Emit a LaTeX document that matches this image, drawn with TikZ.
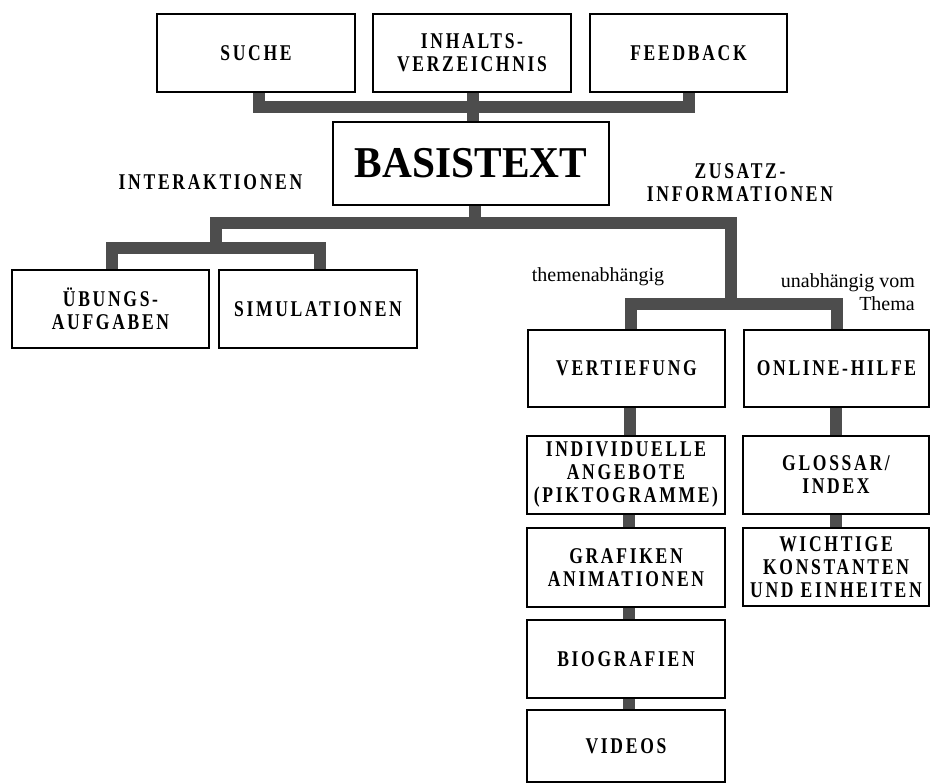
\documentclass[tikz,border=0pt]{standalone}
\usepackage{fontspec}
\setmainfont{Liberation Serif}
\newfontfamily\lblfont{Liberation Serif}[FakeStretch=0.78,LetterSpace=12]
\newfontfamily\bigfont{Liberation Serif}[FakeStretch=0.94]
\newcommand\mylbl{\lblfont\bfseries\fontsize{22.5}{23}\selectfont}
\newcommand\mybig{\bigfont\bfseries\fontsize{44}{48}\selectfont}
\definecolor{linegray}{HTML}{4D4D4D}
\pgfdeclarelayer{bg}
\pgfsetlayers{bg,main}
\begin{document}
\begin{tikzpicture}[x=1pt,y=-1pt,
  box/.style={draw=black,line width=1.5pt,fill=white,inner sep=0pt,
    minimum height=78pt,minimum width=198pt,align=center,font=\mylbl},
  conn/.style={draw=linegray,line width=12pt,line join=miter,line cap=butt},
  lbl/.style={font=\mylbl,align=center,inner sep=0pt},
  note/.style={font=\fontsize{20}{23}\selectfont,inner sep=0pt}]
\useasboundingbox (0,0) rectangle (930,784);

% boxes
\node[box] (suche) at (256,53) {SUCHE};
\node[box] (inhalt) at (472,53) {INHALTS-\\VERZEICHNIS};
\node[box,minimum width=197pt] (feed) at (688.5,53) {FEEDBACK};
\node[box,minimum width=276pt,minimum height=83pt,font=\mybig] (basis) at (471,163.5) {BASISTEXT};
\node[lbl] (inter) at (210.5,182) {INTERAKTIONEN};
\node[lbl] (zusatz) at (740,182.5) {ZUSATZ-\\INFORMATIONEN};
\node[box,minimum width=197pt] (ueb) at (110.5,309) {ÜBUNGS-\\AUFGABEN};
\node[box] (sim) at (318,309) {SIMULATIONEN};
\node[note] (them) at (598,277) {themenabhängig};
\node[note,align=right,anchor=east] (unab) at (915,292) {unabhängig vom\\Thema};
\node[box,minimum width=197pt,minimum height=77pt] (vert) at (626.5,368.5) {VERTIEFUNG};
\node[box,minimum width=185pt,minimum height=77pt] (online) at (836.5,368.5) {ONLINE-HILFE};
\node[box] (indiv) at (626,475) {INDIVIDUELLE\\ANGEBOTE\\(PIKTOGRAMME)};
\node[box,minimum height=79pt] (graf) at (626,567.5) {GRAFIKEN\\ANIMATIONEN};
\node[box] (bio) at (626,659) {BIOGRAFIEN};
\node[box,minimum height=72pt] (vid) at (626,746) {VIDEOS};
\node[box,minimum width=186pt] (gloss) at (836,475) {GLOSSAR/\\INDEX};
\node[box,minimum width=186pt] (wicht) at (836,567) {WICHTIGE\\KONSTANTEN\\UND EINHEITEN};

\coordinate (ja) at (475,223);
\coordinate (jl) at (216,248);
\coordinate (jr) at (731,304);

\begin{pgfonlayer}{bg}
\draw[conn] ([xshift=3pt]suche.south) -- ++(0,14) -| ([xshift=0.5pt]feed.south);
\draw[conn] ([xshift=0.5pt]inhalt.south) -- ([xshift=0.5pt]inhalt.south |- basis.north);
\draw[conn] ([xshift=4pt]basis.south) -- ([xshift=4pt]basis.south |- ja);
\draw[conn] (jl) -- (jl |- ja) -| (jr);
\draw[conn] ([xshift=1.5pt]ueb.north) |- (jl) -| ([xshift=2pt]sim.north);
\draw[conn] ([xshift=4.5pt]vert.north) |- (jr) -| ([xshift=0.5pt]online.north);
\foreach \a/\b in {vert/indiv,indiv/graf,graf/bio,bio/vid}
  \draw[conn] ([xshift=3pt]\a.south) -- ([xshift=3pt]\a.south |- \b.north);
\foreach \a/\b in {online/gloss,gloss/wicht}
  \draw[conn] ([xshift=-0.5pt]\a.south) -- ([xshift=-0.5pt]\a.south |- \b.north);
\end{pgfonlayer}
\end{tikzpicture}
\end{document}
